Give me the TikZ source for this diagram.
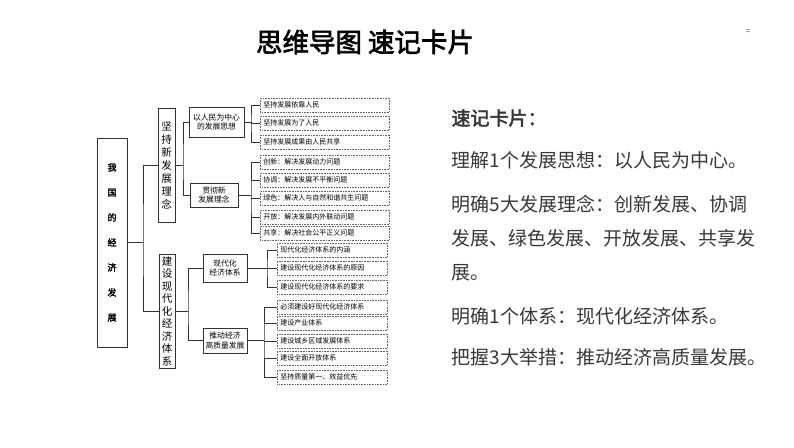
\documentclass[tikz,border=0pt]{standalone}
\usepackage{fontspec}
\setmainfont{Noto Sans CJK SC}[AutoFakeBold=2.5]
\begin{document}
\begin{tikzpicture}[x=1pt,y=-1pt,
 box/.style={draw=black!80,line width=0.8pt,fill=white,inner sep=0pt,align=center},
 leaf/.style={draw=black!60,densely dotted,line width=0.6pt,inner sep=0pt,minimum height=14,anchor=west,font=\fontsize{7}{7.5}\selectfont,align=left,text width=123,inner xsep=3pt},
 ln/.style={draw=black!80,line width=0.7pt},
 rt/.style={anchor=west,font=\fontsize{19}{21}\selectfont,text=black!78}]
\useasboundingbox (0,0) rectangle (794,447);
\node[font=\fontsize{26.5}{28}\selectfont\bfseries] (title) at (365,42) {思维导图\ 速记卡片};
\node[font=\fontsize{9}{10}\selectfont,text=black!60] (eq) at (748,32) {=};
% root
\node[box,minimum width=30,minimum height=209,font=\fontsize{9}{25}\selectfont\bfseries] (root) at (112,242.5) {我\\国\\的\\经\\济\\发\\展};
\node[box,minimum width=17,minimum height=114,font=\fontsize{10.5}{13}\selectfont] (a) at (166.5,165) {坚\\持\\新\\发\\展\\理\\念};
\node[box,minimum width=16,minimum height=114,font=\fontsize{10.5}{12.5}\selectfont] (b) at (167,311) {建\\设\\现\\代\\化\\经\\济\\体\\系};
\node[box,minimum width=55,minimum height=30,font=\fontsize{7.8}{9.5}\selectfont] (a1) at (216.5,122) {以人民为中心\\的发展思想};
\node[box,minimum width=48,minimum height=24,font=\fontsize{7.8}{9.5}\selectfont] (a2) at (214,195) {贯彻新\\发展理念};
\node[box,minimum width=44,minimum height=28,font=\fontsize{7.8}{9.5}\selectfont] (b1) at (225,268) {现代化\\经济体系};
\node[box,minimum width=44,minimum height=25,font=\fontsize{7.8}{9.5}\selectfont] (b2) at (225,340.5) {推动经济\\高质量发展};
% leaves
\foreach \n/\y/\t in {l1/105/坚持发展依靠人民,l2/123/坚持发展为了人民,l3/142/坚持发展成果由人民共享,l4/162/创新：解决发展动力问题,l5/180/协调：解决发展不平衡问题,l6/198/绿色：解决人与自然和谐共生问题,l7/217/开放：解决发展内外联动问题,l8/233/共享：解决社会公平正义问题}
  \node[leaf] (\n) at (260,\y) {\t};
\foreach \n/\y/\t in {m1/250/现代化经济体系的内涵,m2/268/建设现代化经济体系的原因,m3/287/建设现代化经济体系的要求,m4/307/必须建设好现代化经济体系,m5/323/建设产业体系,m6/341/建设城乡区域发展体系,m7/358/建设全面开放体系,m8/377/坚持质量第一、效益优先}
  \node[leaf,text width=104] (\n) at (277,\y) {\t};
% connectors
\coordinate (r1) at (143,242.5);
\draw[ln] (root.east|-r1) -- (r1);
\draw[ln] (a.west) -| (r1) |- (b.west);
\coordinate (c1) at (183,165);
\draw[ln] (a.east|-c1) -- (c1);
\draw[ln] (a1.west) -| (c1) |- (a2.west);
\coordinate (c2) at (188,311);
\draw[ln] (b.east|-c2) -- (c2);
\draw[ln] (b1.west) -| (c2) |- (b2.west);
\coordinate (d1) at (251,122);
\draw[ln] (a1.east) -- (d1);
\draw[ln] (l1.west) -| (d1) |- (l3.west);
\draw[ln] (d1) |- (l2.west);
\coordinate (d2) at (251,195);
\draw[ln] (a2.east) -- (d2);
\draw[ln] (l4.west) -| (d2) |- (l8.west);
\foreach \l in {l5,l6,l7} \draw[ln] (d2|-\l.west) -- (\l.west);
\coordinate (e1) at (267,268);
\draw[ln] (b1.east) -- (e1);
\draw[ln] (m1.west) -| (e1) |- (m3.west);
\draw[ln] (e1) -- (m2.west);
\coordinate (e2) at (264,340.5);
\draw[ln] (b2.east) -- (e2);
\draw[ln] (m4.west) -| (e2) |- (m8.west);
\foreach \l in {m5,m6,m7} \draw[ln] (e2|-\l.west) -- (\l.west);
% right text
\node[rt,font=\fontsize{19}{21}\selectfont\bfseries] (t0) at (448,118) {速记卡片：};
\node[rt] (t1) at (448,160) {理解1个发展思想：以人民为中心。};
\node[rt,align=left,text width=340] (t2) at (448,238) {明确5大发展理念：创新发展、协调\\[13pt]发展、绿色发展、开放发展、共享发\\[13pt]展。};
\node[rt] (t3) at (448,316) {明确1个体系：现代化经济体系。};
\node[rt] (t4) at (448,357) {把握3大举措：推动经济高质量发展。};
\end{tikzpicture}
\end{document}
